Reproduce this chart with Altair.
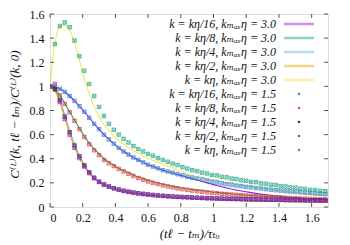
import altair as alt
import pandas as pd

# shared time grid (t_l - t_m)/tau_to
t = [0.00, 0.03, 0.06, 0.09, 0.12, 0.15, 0.18, 0.21, 0.24, 0.27,
     0.30, 0.33, 0.36, 0.39, 0.42, 0.45, 0.48, 0.51, 0.54, 0.57,
     0.60, 0.63, 0.66, 0.69, 0.72, 0.75, 0.78, 0.81, 0.84, 0.87,
     0.90, 0.93, 0.96, 0.99, 1.02, 1.05, 1.08, 1.11, 1.14, 1.17,
     1.20, 1.23, 1.26, 1.29, 1.32, 1.35, 1.38, 1.41, 1.44, 1.47,
     1.50, 1.53, 1.56, 1.59, 1.62, 1.65, 1.68, 1.71]

line_names = ["k = kη/16,  kₘₐₓη = 3.0", "k = kη/8,  kₘₐₓη = 3.0", "k = kη/4,  kₘₐₓη = 3.0",
              "k = kη/2,  kₘₐₓη = 3.0", "k = kη,  kₘₐₓη = 3.0"]
point_names = ["k = kη/16,  kₘₐₓη = 1.5", "k = kη/8,  kₘₐₓη = 1.5", "k = kη/4,  kₘₐₓη = 1.5",
               "k = kη/2,  kₘₐₓη = 1.5", "k = kη,  kₘₐₓη = 1.5"]
line_colors = ["#9400d3", "#009e73", "#56b4e9", "#e69f00", "#f0e442"]
point_colors = ["#1f7fd0", "#e8302a", "#222222", "#9a20d8", "#10a07a"]

# kmax eta = 3.0 (lines)
l16 = [1.0, 0.995, 0.98, 0.955, 0.92, 0.88, 0.835, 0.79, 0.74, 0.69,
       0.645, 0.60, 0.56, 0.525, 0.49, 0.46, 0.435, 0.41, 0.39, 0.37,
       0.35, 0.335, 0.32, 0.305, 0.293, 0.282, 0.27, 0.259, 0.247, 0.236,
       0.224, 0.212, 0.20, 0.189, 0.178, 0.168, 0.158, 0.149, 0.141, 0.133,
       0.126, 0.119, 0.113, 0.107, 0.102, 0.097, 0.092, 0.088, 0.084, 0.080,
       0.077, 0.074, 0.071, 0.068, 0.066, 0.064, 0.062, 0.060]
l8 = [1.0, 0.98, 0.928, 0.86, 0.79, 0.72, 0.652, 0.588, 0.53, 0.482,
      0.44, 0.402, 0.372, 0.346, 0.322, 0.302, 0.283, 0.266, 0.25, 0.236,
      0.222, 0.21, 0.199, 0.189, 0.18, 0.172, 0.164, 0.157, 0.151, 0.145,
      0.14, 0.135, 0.13, 0.125, 0.121, 0.117, 0.113, 0.109, 0.106, 0.102,
      0.099, 0.096, 0.093, 0.090, 0.088, 0.085, 0.083, 0.081, 0.079, 0.077,
      0.075, 0.073, 0.071, 0.069, 0.068, 0.066, 0.064, 0.063]
l4 = [1.0, 0.97, 0.89, 0.765, 0.635, 0.52, 0.425, 0.35, 0.29, 0.245,
      0.211, 0.187, 0.169, 0.155, 0.143, 0.133, 0.125, 0.118, 0.112, 0.106,
      0.101, 0.097, 0.093, 0.089, 0.086, 0.083, 0.080, 0.078, 0.076, 0.074,
      0.072, 0.070, 0.068, 0.066, 0.065, 0.063, 0.062, 0.060, 0.059, 0.058,
      0.057, 0.056, 0.055, 0.054, 0.053, 0.052, 0.051, 0.050, 0.049, 0.048,
      0.048, 0.047, 0.046, 0.045, 0.045, 0.044, 0.043, 0.043]
l2 = [1.0, 0.965, 0.87, 0.735, 0.605, 0.495, 0.405, 0.335, 0.278, 0.237,
      0.206, 0.184, 0.166, 0.152, 0.14, 0.13, 0.122, 0.115, 0.108, 0.102,
      0.097, 0.093, 0.089, 0.085, 0.082, 0.079, 0.076, 0.074, 0.071, 0.069,
      0.067, 0.065, 0.063, 0.062, 0.060, 0.058, 0.057, 0.055, 0.054, 0.053,
      0.052, 0.051, 0.050, 0.049, 0.048, 0.047, 0.046, 0.045, 0.044, 0.043,
      0.042, 0.041, 0.040, 0.039, 0.039, 0.038, 0.037, 0.036]
l1 = [1.0, 1.36, 1.49, 1.51, 1.47, 1.36, 1.22, 1.06, 0.94, 0.83,
      0.75, 0.68, 0.635, 0.585, 0.55, 0.52, 0.488, 0.465, 0.445, 0.418,
      0.40, 0.388, 0.368, 0.352, 0.338, 0.326, 0.304, 0.292, 0.27, 0.262,
      0.25, 0.248, 0.232, 0.226, 0.222, 0.208, 0.2, 0.198, 0.184, 0.182,
      0.172, 0.17, 0.162, 0.158, 0.15, 0.148, 0.138, 0.137, 0.128, 0.127,
      0.12, 0.117, 0.11, 0.11, 0.103, 0.102, 0.097, 0.095]

# kmax eta = 1.5 (points)
p16 = [1.0, 0.995, 0.98, 0.955, 0.92, 0.88, 0.835, 0.79, 0.74, 0.69,
       0.645, 0.60, 0.56, 0.525, 0.49, 0.46, 0.435, 0.41, 0.39, 0.37,
       0.35, 0.335, 0.32, 0.305, 0.295, 0.285, 0.272, 0.262, 0.25, 0.243,
       0.235, 0.228, 0.22, 0.21, 0.204, 0.196, 0.19, 0.185, 0.178, 0.173,
       0.167, 0.163, 0.157, 0.153, 0.148, 0.144, 0.139, 0.136, 0.131, 0.128,
       0.124, 0.122, 0.118, 0.116, 0.112, 0.110, 0.106, 0.104]
p8 = [1.0, 0.98, 0.925, 0.855, 0.785, 0.715, 0.645, 0.58, 0.52, 0.47,
      0.43, 0.39, 0.362, 0.34, 0.315, 0.295, 0.275, 0.257, 0.24, 0.226,
      0.212, 0.2, 0.19, 0.18, 0.171, 0.163, 0.155, 0.148, 0.142, 0.136,
      0.131, 0.127, 0.122, 0.118, 0.114, 0.11, 0.107, 0.104, 0.101, 0.098,
      0.095, 0.092, 0.09, 0.087, 0.085, 0.083, 0.081, 0.079, 0.077, 0.075,
      0.073, 0.071, 0.07, 0.068, 0.066, 0.065, 0.063, 0.062]
p4 = [1.0, 0.975, 0.885, 0.75, 0.62, 0.51, 0.42, 0.345, 0.287, 0.243,
      0.21, 0.187, 0.17, 0.156, 0.145, 0.135, 0.127, 0.12, 0.114, 0.109,
      0.104, 0.1, 0.096, 0.093, 0.09, 0.087, 0.085, 0.083, 0.081, 0.079,
      0.077, 0.076, 0.074, 0.073, 0.071, 0.070, 0.069, 0.068, 0.067, 0.066,
      0.065, 0.064, 0.063, 0.062, 0.062, 0.061, 0.060, 0.060, 0.059, 0.058,
      0.058, 0.057, 0.057, 0.056, 0.056, 0.055, 0.055, 0.054]
p2 = [1.0, 1.02, 0.87, 0.73, 0.60, 0.49, 0.405, 0.335, 0.28, 0.238,
      0.207, 0.185, 0.168, 0.154, 0.143, 0.133, 0.125, 0.118, 0.112, 0.107,
      0.102, 0.098, 0.094, 0.091, 0.088, 0.086, 0.083, 0.081, 0.079, 0.077,
      0.076, 0.074, 0.072, 0.071, 0.070, 0.068, 0.067, 0.066, 0.065, 0.064,
      0.063, 0.062, 0.062, 0.061, 0.060, 0.059, 0.059, 0.058, 0.057, 0.057,
      0.056, 0.056, 0.055, 0.054, 0.054, 0.053, 0.053, 0.052]
p1 = [1.0, 1.35, 1.50, 1.53, 1.49, 1.38, 1.25, 1.13, 1.02, 0.92,
      0.83, 0.755, 0.69, 0.64, 0.60, 0.565, 0.535, 0.505, 0.48, 0.46,
      0.44, 0.425, 0.405, 0.39, 0.375, 0.36, 0.348, 0.33, 0.318, 0.305,
      0.297, 0.285, 0.278, 0.265, 0.262, 0.25, 0.246, 0.236, 0.232, 0.221,
      0.218, 0.208, 0.206, 0.196, 0.193, 0.185, 0.182, 0.172, 0.17, 0.162,
      0.16, 0.152, 0.15, 0.142, 0.141, 0.134, 0.131, 0.128]

xticks = [0, 0.2, 0.4, 0.6, 0.8, 1.0, 1.2, 1.4, 1.6]
yticks = [0, 0.2, 0.4, 0.6, 0.8, 1.0, 1.2, 1.4, 1.6]

W, H = 278, 193
FONT = "Liberation Serif, DejaVu Serif, serif"

lines_df = pd.concat([pd.DataFrame({"t": t, "val": v, "series": n})
                      for n, v in zip(line_names, [l16, l8, l4, l2, l1])])
points_df = pd.concat([pd.DataFrame({"t": t, "val": v, "series": n})
                       for n, v in zip(point_names, [p16, p8, p4, p2, p1])])

xscale = alt.Scale(domain=[0, 1.7], nice=False, zero=False)
yscale = alt.Scale(domain=[0, 1.6], nice=False, zero=False)

xaxis = alt.Axis(values=xticks, format=".1~f", ticks=False, domain=False, grid=False,
                 labelFont=FONT, labelFontSize=12, labelColor="#111", labelPadding=5,
                 title="(tℓ − tₘ)/τₜₒ", titleFont=FONT, titleFontSize=13,
                 titleFontStyle="italic", titleFontWeight="normal", titleColor="#111",
                 titlePadding=4)
yaxis = alt.Axis(values=yticks, format=".1~f", ticks=False, domain=False, grid=False,
                 labelFont=FONT, labelFontSize=12, labelColor="#111", labelPadding=6,
                 title="C⁽ᴸ⁾(k, tℓ − tₘ)/C⁽ᴸ⁾(k, 0)", titleFont=FONT, titleFontSize=13,
                 titleFontStyle="italic", titleFontWeight="normal", titleColor="#111",
                 titlePadding=8, titleY=100)

X = alt.X("t:Q", scale=xscale, axis=xaxis)
Y = alt.Y("val:Q", scale=yscale, axis=yaxis)

lines = alt.Chart(lines_df).mark_line(strokeWidth=1.1, clip=True, interpolate="monotone",
                                      opacity=0.9).encode(
    x=X, y=Y,
    color=alt.Color("series:N", scale=alt.Scale(domain=line_names, range=line_colors),
                    legend=None),
    detail="series:N",
)

box_x = "M-1,-1L1,1M-1,1L1,-1M-1,-1H1V1H-1Z"
points = alt.Chart(points_df).mark_point(shape=box_x, size=12, filled=False, strokeWidth=0.8,
                                         clip=True, opacity=0.85).encode(
    x=X, y=Y,
    color=alt.Color("series:N", scale=alt.Scale(domain=point_names, range=point_colors),
                    legend=None),
)

# key (legend) entries: label text right-aligned, sample to its right
key_df = pd.DataFrame({
    "label": line_names + point_names,
    "colour": line_colors + point_colors,
    "kind": ["line"] * 5 + ["point"] * 5,
    "row": list(range(10)),
})
key_df["py"] = 10 + 14 * key_df["row"]
KY = alt.Y("py:Q", scale=None, axis=None)

key_text = alt.Chart(key_df).mark_text(align="right", baseline="middle", font=FONT,
                                       fontSize=12, fontStyle="italic", color="#111").encode(
    x=alt.value(226), y=KY, text="label:N")
key_lines = alt.Chart(key_df).transform_filter(alt.datum.kind == "line").mark_rule(
    strokeWidth=2.5, opacity=0.45).encode(
    x=alt.value(234), x2=alt.value(264), y=KY, color=alt.Color("colour:N", scale=None, legend=None))
key_points = alt.Chart(key_df).transform_filter(alt.datum.kind == "point").mark_square(
    size=5, opacity=0.9).encode(
    x=alt.value(249), y=KY, color=alt.Color("colour:N", scale=None, legend=None))

xt_df = pd.DataFrame({"t": xticks})
yt_df = pd.DataFrame({"val": yticks})
tick_color = "#555555"
xt_bottom = alt.Chart(xt_df).mark_rule(color=tick_color, strokeWidth=1).encode(
    x=X, y=alt.value(H), y2=alt.value(H - 4))
xt_top = alt.Chart(xt_df).mark_rule(color=tick_color, strokeWidth=1).encode(
    x=X, y=alt.value(0), y2=alt.value(4))
yt_left = alt.Chart(yt_df).mark_rule(color=tick_color, strokeWidth=1).encode(
    y=Y, x=alt.value(0), x2=alt.value(4))
yt_right = alt.Chart(yt_df).mark_rule(color=tick_color, strokeWidth=1).encode(
    y=Y, x=alt.value(W), x2=alt.value(W - 4))

chart = alt.layer(lines, points, xt_bottom, xt_top, yt_left, yt_right,
                  key_text, key_lines, key_points).resolve_scale(
    color="independent"
).properties(
    width=W, height=H,
    autosize=alt.AutoSizeParams(type="none"),
    padding={"left": 42, "top": 6, "right": 14, "bottom": 36},
).configure_view(stroke="#7f7f7f", strokeWidth=1.5).configure(background="white")

chart.save("out.html", embed_options={"renderer": "svg", "actions": False})
